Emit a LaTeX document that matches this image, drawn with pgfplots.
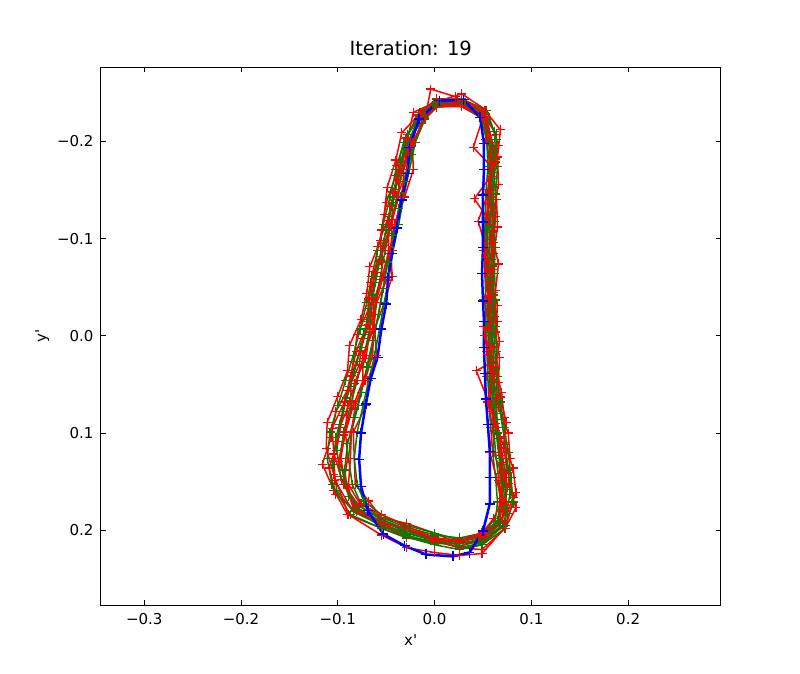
\documentclass[border=0pt]{standalone}
\usepackage{pgfplots}
\pgfplotsset{compat=1.18}
\usepackage{fontspec}
\setmainfont{DejaVu Sans}[Ligatures=TeXOff]
\definecolor{mplred}{rgb}{1,0,0}
\definecolor{mplgreen}{rgb}{0,0.5,0}
\definecolor{mplblue}{rgb}{0,0,1}
\begin{document}
\begin{tikzpicture}
\useasboundingbox (-100.7bp,-68bp) rectangle (699.3bp,605.3bp);
\begin{axis}[
  at={(0,0)}, anchor=south west,
  scale only axis, width=620bp, height=538bp,
  xmin=-0.345, xmax=0.2956, ymin=-0.2764, ymax=0.2773,
  y dir=reverse,
  axis line style={line width=1bp},
  tick align=inside, major tick length=5bp,
  every tick/.style={black, line width=0.8bp},
  xtick={-0.3,-0.2,-0.1,0,0.1,0.2},
  xticklabels={−0.3,−0.2,−0.1,0.0,0.1,0.2},
  ytick={-0.2,-0.1,0,0.1,0.2},
  yticklabels={−0.2,−0.1,0.0,0.1,0.2},
  scaled ticks=false,
  xticklabel style={font=\fontsize{15bp}{18bp}\selectfont, anchor=north, inner sep=0pt, yshift=-8bp},
  yticklabel style={font=\fontsize{15bp}{18bp}\selectfont, anchor=east, inner sep=0pt, xshift=-7bp},
  title={Iteration: 19},
  title style={at={(axis description cs:0.5,1.0117)}, anchor=base, inner sep=0pt, font=\fontsize{19.5bp}{23bp}\selectfont},
  xlabel={x'},
  xlabel style={at={(axis description cs:0.5,-0.0743)}, anchor=base, inner sep=0pt, font=\fontsize{15bp}{18bp}\selectfont},
  ylabel={y'},
  ylabel style={at={(axis description cs:-0.0944,0.5)}, anchor=center, inner sep=0pt, font=\fontsize{15bp}{18bp}\selectfont},
  clip=true,
  red plot/.style={color=mplred, line width=1.5bp, line join=round, mark=+, mark size=4.5bp, mark options={line width=1.2bp}},
  green plot/.style={color=mplgreen, line width=1.5bp, line join=round, mark=+, mark size=4.5bp, mark options={line width=1.2bp}},
]
% r1
\addplot[red plot] coordinates {(-0.004,-0.254) (0.022,-0.246) (0.052,-0.226) (0.053,-0.202) (0.058,-0.174) (0.060,-0.146) (0.052,-0.118) (0.054,-0.091) (0.057,-0.064) (0.051,-0.037) (0.057,-0.010) (0.057,0.016) (0.054,0.042) (0.062,0.068) (0.061,0.094) (0.061,0.120) (0.071,0.146) (0.067,0.171) (0.067,0.190) (0.049,0.202) (0.026,0.214) (0.000,0.203) (-0.029,0.193) (-0.055,0.187) (-0.068,0.170) (-0.082,0.153) (-0.083,0.126) (-0.084,0.099) (-0.071,0.072) (-0.069,0.046) (-0.060,0.020) (-0.062,-0.007) (-0.052,-0.034) (-0.044,-0.061) (-0.045,-0.088) (-0.041,-0.115) (-0.031,-0.143) (-0.022,-0.171) (-0.023,-0.199) (-0.010,-0.223) (-0.004,-0.254)};
% g1
\addplot[green plot] coordinates {(0.002,-0.235) (0.028,-0.238) (0.048,-0.226) (0.056,-0.202) (0.057,-0.174) (0.055,-0.146) (0.054,-0.118) (0.054,-0.091) (0.054,-0.064) (0.055,-0.037) (0.055,-0.010) (0.056,0.016) (0.057,0.042) (0.058,0.068) (0.061,0.094) (0.063,0.120) (0.066,0.146) (0.068,0.171) (0.065,0.190) (0.049,0.205) (0.026,0.210) (0.000,0.203) (-0.029,0.195) (-0.055,0.184) (-0.073,0.170) (-0.080,0.153) (-0.083,0.126) (-0.080,0.099) (-0.074,0.072) (-0.068,0.046) (-0.062,0.020) (-0.057,-0.007) (-0.052,-0.034) (-0.047,-0.061) (-0.043,-0.088) (-0.037,-0.115) (-0.032,-0.143) (-0.026,-0.171) (-0.020,-0.199) (-0.010,-0.223) (0.002,-0.235)};
% r2
\addplot[red plot] coordinates {(0.002,-0.241) (0.028,-0.249) (0.054,-0.232) (0.066,-0.196) (0.061,-0.168) (0.064,-0.140) (0.065,-0.112) (0.061,-0.085) (0.057,-0.058) (0.065,-0.031) (0.063,-0.004) (0.067,0.022) (0.066,0.048) (0.066,0.074) (0.076,0.100) (0.078,0.126) (0.076,0.152) (0.084,0.177) (0.073,0.198) (0.049,0.220) (0.026,0.218) (0.000,0.211) (-0.029,0.208) (-0.055,0.198) (-0.090,0.184) (-0.104,0.159) (-0.116,0.132) (-0.107,0.105) (-0.102,0.078) (-0.088,0.052) (-0.084,0.026) (-0.080,-0.001) (-0.068,-0.028) (-0.066,-0.055) (-0.056,-0.082) (-0.055,-0.109) (-0.050,-0.137) (-0.040,-0.165) (-0.030,-0.193) (-0.022,-0.230) (0.002,-0.241)};
% g2
\addplot[green plot] coordinates {(0.002,-0.237) (0.028,-0.236) (0.047,-0.225) (0.054,-0.202) (0.055,-0.174) (0.053,-0.146) (0.052,-0.118) (0.052,-0.091) (0.052,-0.064) (0.053,-0.037) (0.053,-0.010) (0.054,0.016) (0.055,0.042) (0.056,0.068) (0.058,0.094) (0.060,0.120) (0.063,0.146) (0.065,0.171) (0.063,0.188) (0.049,0.203) (0.026,0.208) (0.000,0.205) (-0.029,0.197) (-0.055,0.187) (-0.076,0.173) (-0.085,0.153) (-0.089,0.126) (-0.086,0.099) (-0.079,0.072) (-0.073,0.046) (-0.066,0.020) (-0.061,-0.007) (-0.056,-0.034) (-0.051,-0.061) (-0.046,-0.088) (-0.040,-0.115) (-0.035,-0.143) (-0.029,-0.171) (-0.022,-0.199) (-0.011,-0.224) (0.002,-0.237)};
% r9
\addplot[red plot] coordinates {(0.002,-0.241) (0.028,-0.236) (0.050,-0.227) (0.057,-0.199) (0.056,-0.171) (0.059,-0.143) (0.056,-0.115) (0.051,-0.088) (0.057,-0.061) (0.056,-0.034) (0.057,-0.007) (0.055,0.019) (0.061,0.045) (0.059,0.071) (0.063,0.097) (0.068,0.123) (0.066,0.149) (0.072,0.174) (0.070,0.191) (0.049,0.206) (0.026,0.212) (0.000,0.211) (-0.029,0.199) (-0.055,0.192) (-0.083,0.177) (-0.089,0.156) (-0.099,0.129) (-0.094,0.102) (-0.086,0.075) (-0.083,0.049) (-0.071,0.023) (-0.067,-0.004) (-0.065,-0.031) (-0.055,-0.058) (-0.048,-0.085) (-0.047,-0.112) (-0.039,-0.140) (-0.034,-0.168) (-0.024,-0.196) (-0.016,-0.226) (0.002,-0.241)};
% r3
\addplot[red plot] coordinates {(0.002,-0.238) (0.028,-0.238) (0.053,-0.229) (0.055,-0.202) (0.065,-0.174) (0.041,-0.141) (0.057,-0.118) (0.063,-0.091) (0.060,-0.064) (0.059,-0.037) (0.063,-0.010) (0.056,0.016) (0.064,0.042) (0.064,0.068) (0.064,0.094) (0.074,0.120) (0.074,0.146) (0.073,0.171) (0.073,0.195) (0.049,0.211) (0.026,0.213) (0.000,0.209) (-0.029,0.203) (-0.055,0.188) (-0.078,0.175) (-0.094,0.153) (-0.090,0.126) (-0.092,0.099) (-0.084,0.072) (-0.074,0.046) (-0.074,0.020) (-0.063,-0.007) (-0.061,-0.034) (-0.053,-0.061) (-0.045,-0.088) (-0.044,-0.115) (-0.039,-0.143) (-0.028,-0.171) (-0.029,-0.199) (-0.010,-0.225) (0.002,-0.238)};
% g3
\addplot[green plot] coordinates {(0.002,-0.238) (0.028,-0.241) (0.051,-0.229) (0.061,-0.190) (0.062,-0.162) (0.060,-0.134) (0.059,-0.106) (0.059,-0.079) (0.059,-0.052) (0.060,-0.025) (0.060,0.002) (0.061,0.028) (0.062,0.054) (0.064,0.080) (0.067,0.106) (0.070,0.132) (0.073,0.158) (0.075,0.183) (0.070,0.195) (0.049,0.211) (0.026,0.216) (0.000,0.207) (-0.029,0.199) (-0.055,0.189) (-0.078,0.175) (-0.089,0.165) (-0.093,0.138) (-0.090,0.111) (-0.083,0.084) (-0.076,0.058) (-0.070,0.032) (-0.064,0.005) (-0.058,-0.022) (-0.053,-0.049) (-0.049,-0.076) (-0.043,-0.103) (-0.037,-0.131) (-0.031,-0.159) (-0.024,-0.187) (-0.012,-0.225) (0.002,-0.238)};
% r4
\addplot[red plot] coordinates {(0.002,-0.244) (0.028,-0.243) (0.049,-0.230) (0.064,-0.207) (0.063,-0.179) (0.056,-0.151) (0.063,-0.123) (0.061,-0.096) (0.058,-0.069) (0.061,-0.042) (0.065,-0.015) (0.061,0.011) (0.060,0.037) (0.068,0.063) (0.074,0.089) (0.071,0.115) (0.076,0.141) (0.081,0.166) (0.070,0.196) (0.049,0.215) (0.026,0.219) (0.000,0.208) (-0.029,0.203) (-0.055,0.197) (-0.080,0.179) (-0.096,0.148) (-0.104,0.121) (-0.098,0.094) (-0.087,0.067) (-0.086,0.041) (-0.077,0.015) (-0.068,-0.012) (-0.064,-0.039) (-0.063,-0.066) (-0.052,-0.093) (-0.044,-0.120) (-0.043,-0.148) (-0.035,-0.176) (-0.029,-0.204) (-0.017,-0.227) (0.002,-0.244)};
% g4
\addplot[green plot] coordinates {(0.002,-0.239) (0.028,-0.239) (0.049,-0.227) (0.057,-0.202) (0.058,-0.174) (0.056,-0.146) (0.055,-0.118) (0.055,-0.091) (0.055,-0.064) (0.056,-0.037) (0.056,-0.010) (0.057,0.016) (0.058,0.042) (0.060,0.068) (0.063,0.094) (0.066,0.120) (0.069,0.146) (0.071,0.171) (0.066,0.191) (0.049,0.207) (0.026,0.212) (0.000,0.209) (-0.029,0.201) (-0.055,0.191) (-0.080,0.177) (-0.093,0.153) (-0.097,0.126) (-0.094,0.099) (-0.087,0.072) (-0.080,0.046) (-0.073,0.020) (-0.067,-0.007) (-0.061,-0.034) (-0.056,-0.061) (-0.051,-0.088) (-0.045,-0.115) (-0.039,-0.143) (-0.033,-0.171) (-0.026,-0.199) (-0.013,-0.226) (0.002,-0.239)};
% r5
\addplot[red plot] coordinates {(0.002,-0.236) (0.028,-0.236) (0.050,-0.225) (0.040,-0.194) (0.059,-0.174) (0.055,-0.146) (0.045,-0.118) (0.053,-0.091) (0.052,-0.064) (0.056,-0.037) (0.051,-0.010) (0.054,0.016) (0.059,0.042) (0.055,0.068) (0.060,0.094) (0.057,0.120) (0.064,0.146) (0.069,0.171) (0.061,0.188) (0.049,0.203) (0.026,0.210) (0.000,0.208) (-0.029,0.196) (-0.055,0.184) (-0.077,0.173) (-0.089,0.153) (-0.087,0.126) (-0.086,0.099) (-0.082,0.072) (-0.072,0.046) (-0.064,0.020) (-0.063,-0.007) (-0.060,-0.034) (-0.048,-0.061) (-0.046,-0.088) (-0.041,-0.115) (-0.033,-0.143) (-0.032,-0.171) (-0.022,-0.199) (-0.010,-0.224) (0.002,-0.236)};
% g5
\addplot[green plot] coordinates {(0.002,-0.240) (0.028,-0.242) (0.052,-0.230) (0.062,-0.210) (0.063,-0.182) (0.061,-0.154) (0.060,-0.126) (0.060,-0.099) (0.060,-0.072) (0.061,-0.045) (0.061,-0.018) (0.062,0.008) (0.063,0.034) (0.066,0.060) (0.069,0.086) (0.073,0.112) (0.076,0.138) (0.078,0.163) (0.071,0.196) (0.049,0.213) (0.026,0.218) (0.000,0.211) (-0.029,0.203) (-0.055,0.193) (-0.082,0.179) (-0.097,0.145) (-0.101,0.118) (-0.098,0.091) (-0.091,0.064) (-0.084,0.038) (-0.076,0.012) (-0.070,-0.015) (-0.064,-0.042) (-0.059,-0.069) (-0.053,-0.096) (-0.047,-0.123) (-0.041,-0.151) (-0.035,-0.179) (-0.028,-0.207) (-0.014,-0.227) (0.002,-0.240)};
% r10
\addplot[red plot] coordinates {(0.002,-0.239) (0.028,-0.241) (0.053,-0.228) (0.058,-0.206) (0.062,-0.178) (0.058,-0.150) (0.054,-0.122) (0.059,-0.095) (0.061,-0.068) (0.056,-0.041) (0.059,-0.014) (0.059,0.012) (0.059,0.038) (0.065,0.064) (0.063,0.090) (0.069,0.116) (0.073,0.142) (0.069,0.167) (0.068,0.193) (0.049,0.212) (0.026,0.213) (0.000,0.214) (-0.029,0.207) (-0.055,0.192) (-0.084,0.181) (-0.103,0.149) (-0.104,0.122) (-0.106,0.095) (-0.093,0.068) (-0.087,0.042) (-0.081,0.016) (-0.070,-0.011) (-0.068,-0.038) (-0.061,-0.065) (-0.059,-0.092) (-0.049,-0.119) (-0.041,-0.147) (-0.039,-0.175) (-0.030,-0.203) (-0.016,-0.228) (0.002,-0.239)};
% r6
\addplot[red plot] coordinates {(0.002,-0.243) (0.028,-0.238) (0.051,-0.228) (0.062,-0.192) (0.059,-0.164) (0.058,-0.136) (0.061,-0.108) (0.054,-0.081) (0.059,-0.054) (0.059,-0.027) (0.052,0.000) (0.061,0.026) (0.043,0.036) (0.060,0.078) (0.068,0.104) (0.069,0.130) (0.075,0.156) (0.072,0.181) (0.068,0.193) (0.049,0.207) (0.026,0.217) (0.000,0.212) (-0.029,0.207) (-0.055,0.195) (-0.081,0.181) (-0.102,0.163) (-0.109,0.136) (-0.100,0.109) (-0.095,0.082) (-0.090,0.056) (-0.078,0.030) (-0.074,0.003) (-0.065,-0.024) (-0.065,-0.051) (-0.056,-0.078) (-0.048,-0.105) (-0.046,-0.133) (-0.038,-0.161) (-0.027,-0.189) (-0.017,-0.228) (0.002,-0.243)};
% g6
\addplot[green plot] coordinates {(0.002,-0.241) (0.028,-0.240) (0.050,-0.228) (0.059,-0.196) (0.060,-0.168) (0.058,-0.140) (0.057,-0.112) (0.057,-0.085) (0.057,-0.058) (0.058,-0.031) (0.058,-0.004) (0.059,0.022) (0.060,0.048) (0.062,0.074) (0.065,0.100) (0.068,0.126) (0.071,0.152) (0.073,0.177) (0.068,0.193) (0.049,0.209) (0.026,0.214) (0.000,0.213) (-0.029,0.205) (-0.055,0.195) (-0.084,0.181) (-0.101,0.159) (-0.105,0.132) (-0.102,0.105) (-0.095,0.078) (-0.087,0.052) (-0.080,0.026) (-0.073,-0.001) (-0.066,-0.028) (-0.061,-0.055) (-0.056,-0.082) (-0.050,-0.109) (-0.043,-0.137) (-0.037,-0.165) (-0.030,-0.193) (-0.015,-0.228) (0.002,-0.241)};
% r7
\addplot[red plot] coordinates {(0.002,-0.236) (0.028,-0.242) (0.049,-0.227) (0.056,-0.202) (0.060,-0.174) (0.054,-0.146) (0.055,-0.118) (0.060,-0.091) (0.054,-0.064) (0.058,-0.037) (0.056,-0.010) (0.055,0.016) (0.061,0.042) (0.056,0.068) (0.064,0.094) (0.068,0.120) (0.068,0.146) (0.071,0.171) (0.070,0.191) (0.049,0.205) (0.026,0.212) (0.000,0.210) (-0.029,0.198) (-0.055,0.193) (-0.084,0.177) (-0.092,0.153) (-0.097,0.126) (-0.092,0.099) (-0.090,0.072) (-0.081,0.046) (-0.073,0.020) (-0.064,-0.007) (-0.063,-0.034) (-0.055,-0.061) (-0.054,-0.088) (-0.045,-0.115) (-0.037,-0.143) (-0.037,-0.171) (-0.025,-0.199) (-0.014,-0.226) (0.002,-0.236)};
% g7
\addplot[green plot] coordinates {(0.002,-0.243) (0.028,-0.244) (0.054,-0.232) (0.064,-0.202) (0.065,-0.174) (0.063,-0.146) (0.062,-0.118) (0.062,-0.091) (0.062,-0.064) (0.063,-0.037) (0.063,-0.010) (0.064,0.016) (0.065,0.042) (0.068,0.068) (0.072,0.094) (0.076,0.120) (0.079,0.146) (0.081,0.171) (0.073,0.198) (0.049,0.215) (0.026,0.220) (0.000,0.215) (-0.029,0.207) (-0.055,0.198) (-0.087,0.184) (-0.106,0.153) (-0.111,0.126) (-0.108,0.099) (-0.100,0.072) (-0.092,0.046) (-0.084,0.020) (-0.077,-0.007) (-0.070,-0.034) (-0.065,-0.061) (-0.059,-0.088) (-0.053,-0.115) (-0.046,-0.143) (-0.040,-0.171) (-0.032,-0.199) (-0.016,-0.230) (0.002,-0.243)};
% r8
\addplot[red plot] coordinates {(0.002,-0.244) (0.028,-0.243) (0.052,-0.232) (0.068,-0.212) (0.065,-0.184) (0.066,-0.156) (0.061,-0.128) (0.060,-0.101) (0.066,-0.074) (0.063,-0.047) (0.062,-0.020) (0.067,0.006) (0.063,0.032) (0.069,0.058) (0.072,0.084) (0.072,0.110) (0.081,0.136) (0.084,0.161) (0.072,0.198) (0.049,0.224) (0.026,0.226) (0.000,0.223) (-0.029,0.218) (-0.055,0.205) (-0.089,0.184) (-0.104,0.143) (-0.112,0.116) (-0.111,0.089) (-0.100,0.062) (-0.090,0.036) (-0.088,0.010) (-0.076,-0.017) (-0.070,-0.044) (-0.067,-0.071) (-0.056,-0.098) (-0.052,-0.125) (-0.049,-0.153) (-0.040,-0.181) (-0.034,-0.209) (-0.014,-0.230) (0.002,-0.244)};
% blue (reference shape)
\addplot[color=mplblue, line width=2.5bp, line join=round, mark=+, mark size=5bp, mark options={line width=1.4bp}] coordinates {(0.005,-0.242) (0.030,-0.243) (0.047,-0.225) (0.051,-0.198) (0.051,-0.171) (0.050,-0.145) (0.050,-0.117) (0.050,-0.091) (0.049,-0.064) (0.050,-0.036) (0.051,-0.015) (0.051,0.012) (0.052,0.039) (0.053,0.065) (0.055,0.091) (0.057,0.119) (0.057,0.146) (0.057,0.173) (0.050,0.201) (0.036,0.223) (0.019,0.227) (-0.009,0.225) (-0.031,0.216) (-0.053,0.204) (-0.069,0.180) (-0.076,0.155) (-0.078,0.127) (-0.076,0.100) (-0.071,0.070) (-0.066,0.044) (-0.059,0.022) (-0.055,-0.007) (-0.050,-0.033) (-0.048,-0.060) (-0.044,-0.085) (-0.039,-0.111) (-0.034,-0.140) (-0.028,-0.167) (-0.026,-0.194) (-0.016,-0.223) (0.005,-0.242)};
\end{axis}
\end{tikzpicture}
\end{document}
